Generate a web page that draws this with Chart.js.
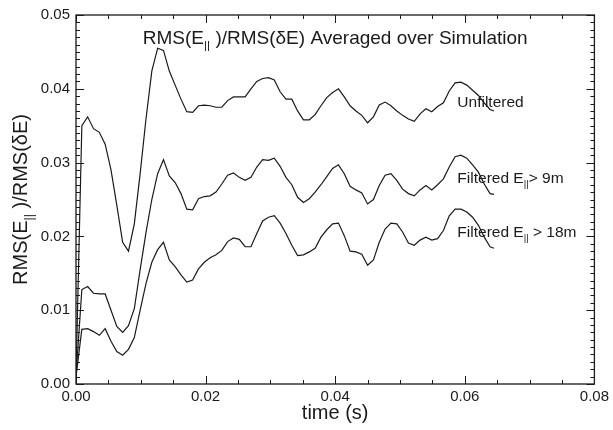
<!DOCTYPE html>
<html>
<head>
<meta charset="utf-8">
<script src="https://cdn.jsdelivr.net/npm/chart.js@4.4.1/dist/chart.umd.min.js"></script>
<style>
html,body{margin:0;padding:0;background:#fff;}
#c{display:block;}
</style>
</head>
<body>
<canvas id="c" width="613" height="430"></canvas>
<script>
// ---- data ----
const timeS = [0, 0.0009, 0.0018, 0.0027, 0.0036, 0.0045, 0.0054, 0.0063, 0.0072, 0.0081,
  0.0090, 0.0099, 0.0108, 0.0117, 0.0126, 0.0135, 0.0144, 0.0153, 0.0162, 0.0171,
  0.0180, 0.0189, 0.0198, 0.0207, 0.0216, 0.0225, 0.0234, 0.0243, 0.0252, 0.0261,
  0.0270, 0.0279, 0.0288, 0.0297, 0.0306, 0.0315, 0.0324, 0.0333, 0.0342, 0.0351,
  0.0360, 0.0369, 0.0378, 0.0387, 0.0396, 0.0405, 0.0414, 0.0423, 0.0432, 0.0441,
  0.0450, 0.0459, 0.0468, 0.0477, 0.0486, 0.0495, 0.0504, 0.0513, 0.0522, 0.0531,
  0.0540, 0.0549, 0.0558, 0.0567, 0.0576, 0.0585, 0.0594, 0.0603, 0.0612, 0.0621,
  0.0630, 0.0639, 0.0645];

const unfiltered = [0.0010, 0.0350, 0.0362, 0.0346, 0.0341, 0.0325, 0.0290, 0.0242, 0.0192, 0.0180,
  0.0217, 0.0285, 0.0359, 0.0424, 0.0455, 0.0452, 0.0424, 0.0405, 0.0386, 0.0369,
  0.0368, 0.0377, 0.0378, 0.0377, 0.0375, 0.0375, 0.0384, 0.0389, 0.0389, 0.0389,
  0.0400, 0.0410, 0.0414, 0.0415, 0.0412, 0.0396, 0.0386, 0.0386, 0.0370, 0.0358,
  0.0358, 0.0365, 0.0377, 0.0388, 0.0395, 0.0400, 0.0389, 0.0377, 0.0370, 0.0364,
  0.0354, 0.0362, 0.0378, 0.0382, 0.0377, 0.0370, 0.0364, 0.0359, 0.0356, 0.0366,
  0.0373, 0.0369, 0.0376, 0.0381, 0.0397, 0.0408, 0.0409, 0.0405, 0.0398, 0.0391,
  0.0381, 0.0372, 0.0370];

const filtered9m = [0.0010, 0.0128, 0.0132, 0.0123, 0.0122, 0.0122, 0.0100, 0.0078, 0.0070, 0.0079,
  0.0102, 0.0155, 0.0205, 0.0250, 0.0285, 0.0304, 0.0282, 0.0273, 0.0258, 0.0237,
  0.0236, 0.0251, 0.0254, 0.0255, 0.0260, 0.0271, 0.0283, 0.0286, 0.0280, 0.0276,
  0.0280, 0.0294, 0.0304, 0.0303, 0.0306, 0.0295, 0.0280, 0.0270, 0.0253, 0.0246,
  0.0251, 0.0260, 0.0270, 0.0281, 0.0292, 0.0297, 0.0285, 0.0268, 0.0263, 0.0259,
  0.0244, 0.0250, 0.0269, 0.0283, 0.0285, 0.0276, 0.0264, 0.0258, 0.0255, 0.0263,
  0.0269, 0.0263, 0.0270, 0.0278, 0.0294, 0.0308, 0.0310, 0.0306, 0.0297, 0.0287,
  0.0271, 0.0258, 0.0257];

const filtered18m = [0.0010, 0.0074, 0.0075, 0.0071, 0.0066, 0.0075, 0.0058, 0.0044, 0.0039, 0.0047,
  0.0063, 0.0100, 0.0136, 0.0165, 0.0182, 0.0192, 0.0168, 0.0159, 0.0148, 0.0138,
  0.0141, 0.0156, 0.0165, 0.0171, 0.0175, 0.0181, 0.0193, 0.0198, 0.0196, 0.0186,
  0.0186, 0.0204, 0.0221, 0.0226, 0.0228, 0.0218, 0.0204, 0.0188, 0.0174, 0.0175,
  0.0179, 0.0184, 0.0199, 0.0209, 0.0217, 0.0218, 0.0201, 0.0180, 0.0179, 0.0176,
  0.0161, 0.0168, 0.0192, 0.0210, 0.0218, 0.0217, 0.0206, 0.0191, 0.0188, 0.0195,
  0.0199, 0.0195, 0.0197, 0.0208, 0.0228, 0.0237, 0.0237, 0.0233, 0.0226, 0.0215,
  0.0199, 0.0186, 0.0184];

const xTickValues = [0.00, 0.02, 0.04, 0.06, 0.08];
const yTickValues = [0.00, 0.01, 0.02, 0.03, 0.04, 0.05];

// series labels: [parts, x-value, y-value of baseline]
const seriesLabels = [
  [[{t:'Unfiltered'}], 0.05885, 0.0375],
  [[{t:'Filtered E'}, {t:'||', sub:true}, {t:'> 9m'}], 0.05885, 0.0273],
  [[{t:'Filtered E'}, {t:'||', sub:true}, {t:' > 18m'}], 0.05885, 0.0199]
];

const FONT = '"Liberation Sans", Arial, Helvetica, sans-serif';
const INK = '#1a1a1a';

function pts(ys){ return ys.map((y,i)=>({x: timeS[i], y: y})); }

function richWidth(ctx, parts, size){
  let w = 0;
  for (const p of parts){
    ctx.font = (p.sub ? size*0.62 : size) + 'px ' + FONT;
    w += ctx.measureText(p.t).width;
  }
  return w;
}
function drawRich(ctx, parts, x, y, size, align){
  const w = richWidth(ctx, parts, size);
  let cx = align === 'center' ? x - w/2 : x;
  ctx.textBaseline = 'alphabetic';
  ctx.textAlign = 'left';
  for (const p of parts){
    const s = p.sub ? size*0.62 : size;
    ctx.font = s + 'px ' + FONT;
    ctx.fillText(p.t, cx, p.sub ? y + size*0.28 : y);
    cx += ctx.measureText(p.t).width;
  }
}

const framePlugin = {
  id: 'frame',
  afterDatasetsDraw(chart){
    const {ctx, chartArea: a, scales:{x, y}} = chart;
    ctx.save();
    ctx.strokeStyle = INK;
    ctx.lineWidth = 1.3;
    ctx.strokeRect(a.left, a.top, a.right - a.left, a.bottom - a.top);
    ctx.lineWidth = 1;
    ctx.beginPath();
    // x ticks (bottom & top), minor every 0.005
    for (let k = 0; k <= 16; k++){
      const v = k * 0.005;
      const px = Math.round(x.getPixelForValue(v)) + 0.5;
      const len = (k % 4 === 0) ? 8 : 4;
      ctx.moveTo(px, a.bottom); ctx.lineTo(px, a.bottom - len);
      ctx.moveTo(px, a.top); ctx.lineTo(px, a.top + len);
    }
    // y ticks (left & right), minor every 0.001
    for (let k = 0; k <= 50; k++){
      const v = k * 0.001;
      const py = Math.round(y.getPixelForValue(v)) + 0.5;
      const len = (k % 10 === 0) ? 8 : 4;
      ctx.moveTo(a.left, py); ctx.lineTo(a.left + len, py);
      ctx.moveTo(a.right, py); ctx.lineTo(a.right - len, py);
    }
    ctx.stroke();

    ctx.fillStyle = INK;
    // title
    drawRich(ctx, [{t:'RMS(E'}, {t:'||', sub:true}, {t:' )/RMS(δE) Averaged over Simulation'}],
      (a.left + a.right)/2, a.top + 29, 19, 'center');
    // series labels
    for (const [parts, vx, vy] of seriesLabels){
      drawRich(ctx, parts, x.getPixelForValue(vx), y.getPixelForValue(vy), 15.5, 'left');
    }
    // x axis title
    ctx.font = '20px ' + FONT;
    ctx.textAlign = 'center';
    ctx.textBaseline = 'alphabetic';
    ctx.fillText('time (s)', (a.left + a.right)/2, 419);
    // y axis title (rotated)
    ctx.save();
    ctx.translate(27, (a.top + a.bottom)/2);
    ctx.rotate(-Math.PI/2);
    drawRich(ctx, [{t:'RMS(E'}, {t:'||', sub:true}, {t:' )/RMS(δE)'}], 0, 0, 20, 'center');
    ctx.restore();
    ctx.restore();
  }
};

const lineStyle = {borderColor: INK, borderWidth: 1.2, pointRadius: 0, tension: 0, fill: false};

new Chart(document.getElementById('c'), {
  type: 'line',
  data: {
    datasets: [
      Object.assign({label: 'Unfiltered', data: pts(unfiltered)}, lineStyle),
      Object.assign({label: 'Filtered E|| > 9m', data: pts(filtered9m)}, lineStyle),
      Object.assign({label: 'Filtered E|| > 18m', data: pts(filtered18m)}, lineStyle)
    ]
  },
  options: {
    responsive: false,
    animation: false,
    devicePixelRatio: 1,
    layout: {padding: {top: 14, right: 15, left: 0, bottom: 0}},
    plugins: {legend: {display: false}, title: {display: false}, tooltip: {enabled: false}},
    scales: {
      x: {
        type: 'linear', min: 0, max: 0.08,
        grid: {display: false, drawTicks: false}, border: {display: false},
        afterBuildTicks(s){ s.ticks = xTickValues.map(v => ({value: v})); },
        afterFit(s){ s.height = 46; },
        ticks: {color: INK, font: {size: 15, family: FONT}, padding: 4, maxRotation: 0,
          callback: v => Number(v).toFixed(2)}
      },
      y: {
        type: 'linear', min: 0, max: 0.05,
        grid: {display: false, drawTicks: false}, border: {display: false},
        afterBuildTicks(s){ s.ticks = yTickValues.map(v => ({value: v})); },
        afterFit(s){ s.width = 76; },
        ticks: {color: INK, font: {size: 15, family: FONT}, padding: 6,
          callback: v => Number(v).toFixed(2)}
      }
    }
  },
  plugins: [framePlugin]
});
</script>
</body>
</html>
